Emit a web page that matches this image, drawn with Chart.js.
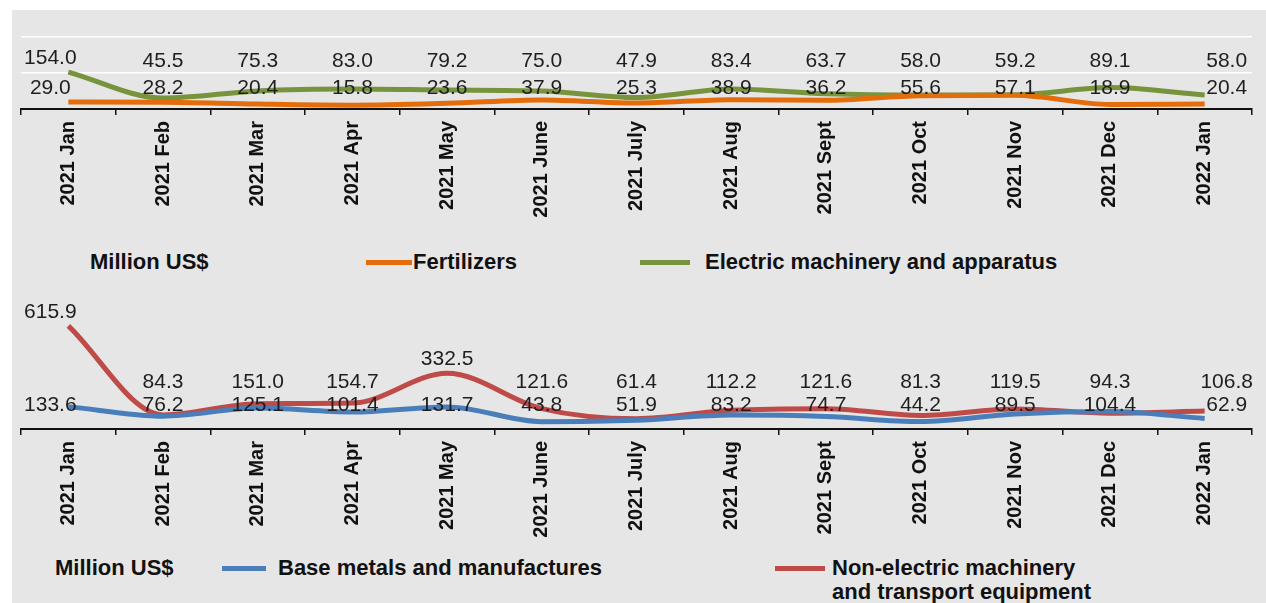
<!DOCTYPE html>
<html>
<head>
<meta charset="utf-8">
<script src="https://cdn.jsdelivr.net/npm/chart.js@4.4.1/dist/chart.umd.min.js"></script>
<style>
    html, body { margin: 0; padding: 0; background: #fff; }
    #page { position: relative; width: 1266px; height: 603px; overflow: hidden; }
    #panel { position: absolute; left: 12px; top: 10px; right: 0; bottom: 0; background: #e6e6e6; }
    canvas { position: absolute; left: 0; }
    #chart-top { top: 10px; }
    #chart-bottom { top: 280px; }
    .leg { position: absolute; font: bold 22px "Liberation Sans", Arial, sans-serif; line-height: 26px; color: #111; white-space: nowrap; }
    .swatch { position: absolute; height: 5px; }
</style>
</head>
<body>
<div id="page">
    <div id="panel"></div>
    <canvas id="chart-top" width="1266" height="230"></canvas>
    <canvas id="chart-bottom" width="1266" height="260"></canvas>

    <span class="leg" style="left:90px; top:249px;">Million US$</span>
    <span class="swatch" style="left:366px; top:260px; width:46px; background:#E46C0A;"></span>
    <span class="leg" style="left:413px; top:249px;">Fertilizers</span>
    <span class="swatch" style="left:640px; top:260px; width:50px; background:#77933C;"></span>
    <span class="leg" style="left:705px; top:249px;">Electric machinery and apparatus</span>

    <span class="leg" style="left:55px; top:555px;">Million US$</span>
    <span class="swatch" style="left:222px; top:566px; width:44px; background:#4A7EBB;"></span>
    <span class="leg" style="left:278px; top:555px;">Base metals and manufactures</span>
    <span class="swatch" style="left:775px; top:566px; width:50px; background:#BE4B48;"></span>
    <span class="leg" style="left:832px; top:555px;">Non-electric machinery</span>
    <span class="leg" style="left:832px; top:579px;">and transport equipment</span>
</div>
<script>
// months on both charts
const months = ['2021 Jan', '2021 Feb', '2021 Mar', '2021 Apr', '2021 May', '2021 June',
    '2021 July', '2021 Aug', '2021 Sept', '2021 Oct', '2021 Nov', '2021 Dec', '2022 Jan'];

// Million US$
const fertilizers = [29.0, 28.2, 20.4, 15.8, 23.6, 37.9, 25.3, 38.9, 36.2, 55.6, 57.1, 18.9, 20.4];
const electricMachinery = [154.0, 45.5, 75.3, 83.0, 79.2, 75.0, 47.9, 83.4, 63.7, 58.0, 59.2, 89.1, 58.0];
const baseMetals = [133.6, 76.2, 125.1, 101.4, 131.7, 43.8, 51.9, 83.2, 74.7, 44.2, 89.5, 104.4, 62.9];
const nonElectric = [615.9, 84.3, 151.0, 154.7, 332.5, 121.6, 61.4, 112.2, 121.6, 81.3, 119.5, 94.3, 106.8];

const FONT = '"Liberation Sans", Arial, sans-serif';

// value labels: drawn in a row, or above the point when the point is higher than the row
const valueLabels = {
    id: 'valueLabels',
    afterDatasetsDraw(chart) {
        const { ctx } = chart;
        const y = chart.scales.y;
        ctx.save();
        ctx.font = '21px ' + FONT;
        ctx.fillStyle = '#1e1e1e';
        ctx.textAlign = 'center';
        ctx.textBaseline = 'middle';
        chart.data.datasets.forEach((ds, i) => {
            const pts = chart.getDatasetMeta(i).data;
            const rowY = y.getPixelForValue(ds.labelRow);
            pts.forEach((pt, j) => {
                const py = ds.labelAbove ? Math.min(pt.y - 14, rowY) : rowY;
                let px = pt.x;
                if (j === 0) px -= 18;
                if (j === pts.length - 1) px += 22;
                ctx.fillText(ds.data[j].toFixed(1), px, py);
            });
        });
        ctx.restore();
    },
};

function makeChart(id, datasets, yMax, yStep, axisHeight, padTop) {
    return new Chart(document.getElementById(id), {
        type: 'line',
        data: { labels: months, datasets },
        options: {
            responsive: false,
            animation: false,
            layout: { padding: { top: padTop, left: 21, right: 14, bottom: 0 } },
            plugins: { legend: { display: false }, tooltip: { enabled: false } },
            elements: {
                point: { radius: 0 },
                line: { borderWidth: 5, cubicInterpolationMode: 'monotone' },
            },
            scales: {
                x: {
                    offset: true,
                    grid: { offset: true, drawOnChartArea: false, color: '#111', tickLength: 6, lineWidth: 1.5 },
                    border: { color: '#111', width: 2 },
                    ticks: {
                        autoSkip: false,
                        minRotation: 90,
                        maxRotation: 90,
                        padding: 6,
                        color: '#111',
                        font: { family: FONT, size: 20, weight: 'bold' },
                    },
                    afterFit(scale) { scale.height = axisHeight; },
                },
                y: {
                    min: 0,
                    max: yMax,
                    ticks: { display: false, stepSize: yStep },
                    grid: {
                        display: yStep > 0,
                        drawTicks: false,
                        lineWidth: 1.5,
                        color: c => c.tick.value === 0 ? 'rgba(0,0,0,0)' : '#ffffff',
                    },
                    border: { display: false },
                },
            },
        },
        plugins: [valueLabels],
    });
}

makeChart('chart-top', [
    { data: fertilizers, borderColor: '#E46C0A', labelRow: 85, labelAbove: false },
    { data: electricMachinery, borderColor: '#77933C', labelRow: 200, labelAbove: true },
], 300, 150, 131, 27);

makeChart('chart-bottom', [
    { data: baseMetals, borderColor: '#4A7EBB', labelRow: 145, labelAbove: false },
    { data: nonElectric, borderColor: '#BE4B48', labelRow: 280, labelAbove: true },
], 800, 0, 111, 15);
</script>
</body>
</html>
